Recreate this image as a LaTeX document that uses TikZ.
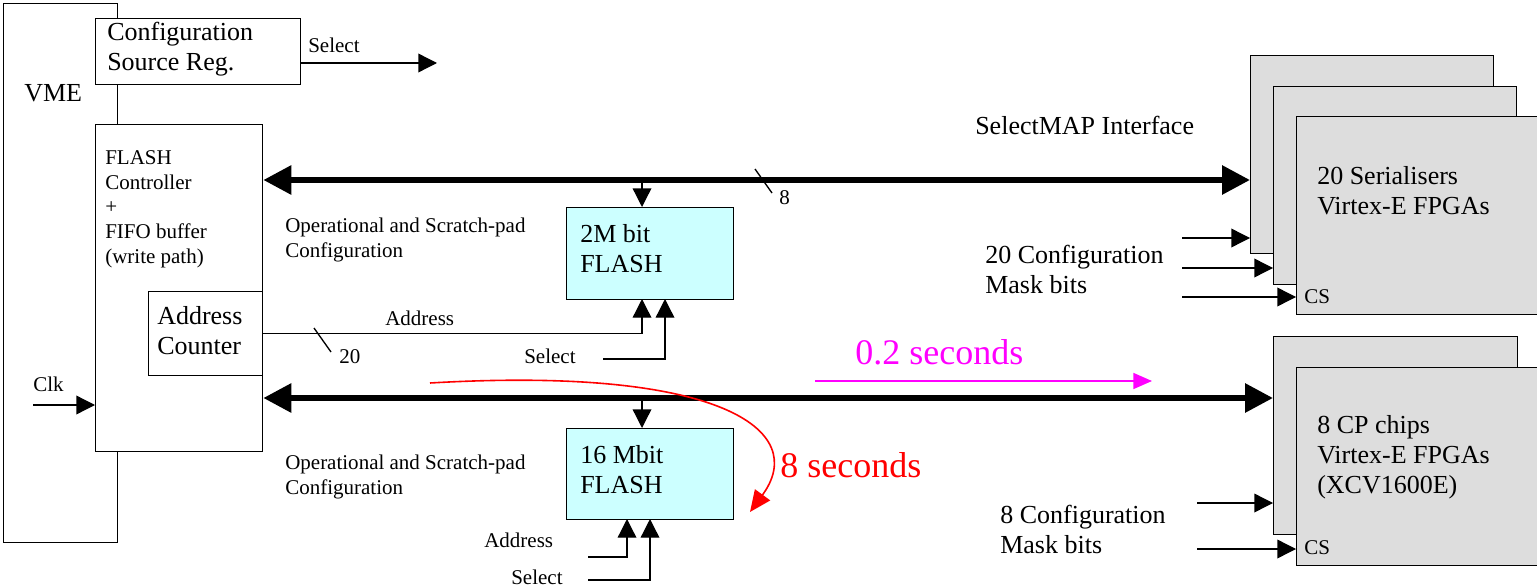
\documentclass[tikz,border=0pt]{standalone}
\usepackage{fontspec}
\setmainfont{Liberation Serif}
\usetikzlibrary{arrows.meta}
\definecolor{flashCyan}{RGB}{204,255,255}
\definecolor{fpgaGray}{RGB}{221,221,221}
\definecolor{fastMagenta}{RGB}{255,0,255}
\definecolor{slowRed}{RGB}{255,0,0}
\newdimen\px \px=0.75pt
\newcommand{\bigfont}{\fontsize{19.5}{22.5}\selectfont}
\newcommand{\smallfont}{\fontsize{15.75}{18.5}\selectfont}
\newcommand{\hugefont}{\fontsize{27}{30}\selectfont}
\tikzset{
    box/.style={draw, line width=1pt, fill=white, anchor=north west, inner sep=0pt},
    flashbox/.style={box, fill=flashCyan, minimum width=167\px},
    chip/.style={box, fill=fpgaGray, minimum width=243\px, minimum height=198\px},
    txt/.style={anchor=west, inner sep=0pt, align=left, font=\smallfont},
    bigtxt/.style={txt, font=\bigfont},
    bus/.style={line width=4.5pt, {Triangle[length=21pt,width=21pt]}-{Triangle[length=21pt,width=21pt]}},
    sig/.style={line width=1pt, -{Triangle[length=14pt,width=14pt]}},
    wire/.style={line width=1pt},
}

\begin{document}
\begin{tikzpicture}[x=0.75pt, y=-0.75pt]
    \useasboundingbox (0,0) rectangle (1537,588);

    % VME, source register and FLASH controller
    \node[box, minimum width=114\px, minimum height=539\px] (vme) at (3,3) {};
    \node[bigtxt] (vmeText) at (24,93) {VME};
    \node[box, minimum width=205\px, minimum height=66\px] (csr) at (95,18) {};
    \node[bigtxt] (csrText) at (107,49) {Configuration\\Source Reg.};
    \node[box, minimum width=167\px, minimum height=327\px] (ctrl) at (95,124) {};
    \node[txt] (ctrlText) at (105,209) {FLASH\\Controller\\+\\FIFO buffer\\(write path)};
    \node[box, minimum width=114\px, minimum height=84\px] (acnt) at (148,291) {};
    \node[bigtxt] (acntText) at (157,331) {Address\\Counter};

    % Select output
    \coordinate (selOut) at (437,63);
    \draw[sig] (csr.east |- selOut) -- (selOut);
    \node[txt] (selOutText) at (308,45) {Select};

    % Clock input
    \coordinate (clkIn) at (33,405);
    \draw[sig] (clkIn) -- (ctrl.west |- clkIn);
    \node[txt] (clkText) at (33,384) {Clk};

    % FLASH memories
    \node[flashbox, minimum height=92\px] (flashA) at (566,207) {};
    \node[bigtxt] (flashAText) at (580,249) {2M bit\\FLASH};
    \node[flashbox, minimum height=91\px] (flashB) at (566,428) {};
    \node[bigtxt] (flashBText) at (580,470) {16 Mbit\\FLASH};
    \node[txt] (opAText) at (285,240) {Operational and Scratch-pad\\Configuration};
    \node[txt] (opBText) at (285,477) {Operational and Scratch-pad\\Configuration};

    % Serialiser FPGAs
    \foreach \i/\x/\y in {1/1250/55, 2/1273/86, 3/1296/116} {
        \node[chip] (ser\i) at (\x,\y) {};
    }
    \node[bigtxt] (serText) at (1317,191) {20 Serialisers\\Virtex-E FPGAs};
    \node[txt] (serCS) at (1304,297) {CS};

    % CP chip FPGAs
    \foreach \i/\x/\y in {1/1273/336, 2/1296/367} {
        \node[chip, minimum width=244\px] (cp\i) at (\x,\y) {};
    }
    \node[bigtxt] (cpText) at (1317,457) {8 CP chips\\Virtex-E FPGAs\\(XCV1600E)};
    \node[txt] (cpCS) at (1304,548) {CS};

    % SelectMAP buses
    \coordinate (busA) at (0,180);
    \coordinate (busB) at (0,398);
    \draw[bus] (ctrl.east |- busA) -- (ser1.west |- busA);
    \draw[bus] (ctrl.east |- busB) -- (cp1.west |- busB);
    \node[bigtxt] (smapText) at (975,125) {SelectMAP Interface};
    \draw[wire] (755,169) -- (772,193);
    \node[txt] (busWidth) at (779,198) {8};

    % Bus taps into the FLASH chips
    \coordinate (tapA) at (642,183);
    \coordinate (tapB) at (642,401);
    \draw[sig] (tapA) -- (tapA |- flashA.north);
    \draw[sig] (tapB) -- (tapB |- flashB.north);

    % Address and select into 2M bit FLASH
    \coordinate (pinA1) at (642,299);
    \coordinate (pinA2) at (665,299);
    \coordinate (selA) at (603,359);
    \draw[sig] (acnt.east) -| (pinA1);
    \draw[sig] (selA) -| (pinA2);
    \draw[wire] (314,328) -- (331,352);
    \node[txt] (addrWidth) at (339,357) {20};
    \node[txt] (addrAText) at (385,318) {Address};
    \node[txt] (selAText) at (524,356) {Select};

    % Address and select into 16 Mbit FLASH
    \coordinate (pinB1) at (627,519);
    \coordinate (pinB2) at (650,519);
    \coordinate (addrB) at (588,557);
    \coordinate (selB) at (588,580);
    \draw[sig] (addrB) -| (pinB1);
    \draw[sig] (selB) -| (pinB2);
    \node[txt] (addrBText) at (484,540) {Address};
    \node[txt] (selBText) at (511,577) {Select};

    % Configuration mask bits
    \foreach \i/\y in {1/238, 2/268, 3/297} {
        \coordinate (serIn\i) at (1182,\y);
        \draw[sig] (serIn\i) -- (ser\i.west |- serIn\i);
    }
    \node[bigtxt] (serMask) at (985,269) {20 Configuration\\Mask bits};
    \foreach \i/\y in {1/503, 2/549} {
        \coordinate (cpIn\i) at (1197,\y);
        \draw[sig] (cpIn\i) -- (cp\i.west |- cpIn\i);
    }
    \node[bigtxt] (cpMask) at (1000,529) {8 Configuration\\Mask bits};

    % Load times
    \coordinate (fastA) at (815,381);
    \coordinate (fastB) at (1152,381);
    \draw[fastMagenta, line width=1.2pt, -{Triangle[length=14pt,width=12pt]}] (fastA) -- (fastB);
    \node[txt, font=\hugefont, fastMagenta] (fastText) at (855,352) {0.2 seconds};
    \coordinate (slowA) at (430,383);
    \coordinate (slowB) at (750,512);
    \draw[slowRed, line width=1.2pt, -{Triangle[length=16pt,width=14pt]}] (slowA) .. controls (720,366) and (810,430) .. (slowB);
    \node[txt, font=\hugefont, slowRed] (slowText) at (780,465) {8 seconds};

\end{tikzpicture}
\end{document}
